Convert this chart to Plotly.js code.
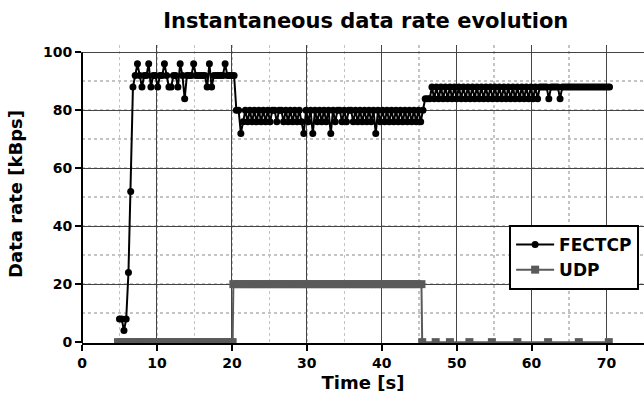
<!DOCTYPE html>
<html>
<head>
<meta charset="utf-8">
<script src="https://cdn.plot.ly/plotly-3.0.1.min.js"></script>
<style>html,body{margin:0;padding:0;background:#fff;}#chart{width:644px;height:399px;}</style>
</head>
<body>
<div id="chart"></div>
<script>
// FECTCP samples (time [s], data rate [kBps])
const fectcpTime = [
  5.0,5.3,5.6,5.9,6.2,6.5,6.8,7.1,7.4,7.7,
  8.0,8.3,8.6,8.9,9.2,9.5,9.8,10.1,10.4,10.7,
  11.0,11.3,11.6,11.9,12.2,12.5,12.8,13.1,13.4,13.7,
  14.0,14.3,14.6,14.9,15.2,15.5,15.8,16.1,16.4,16.7,
  17.0,17.3,17.6,17.9,18.2,18.5,18.8,19.1,19.4,19.7,
  20.0,20.3,20.6,20.9,21.2,21.5,21.8,22.1,22.4,22.7,
  23.0,23.3,23.6,23.9,24.2,24.5,24.8,25.1,25.4,25.7,
  26.0,26.3,26.6,26.9,27.2,27.5,27.8,28.1,28.4,28.7,
  29.0,29.3,29.6,29.9,30.2,30.5,30.8,31.1,31.4,31.7,
  32.0,32.3,32.6,32.9,33.2,33.5,33.8,34.1,34.4,34.7,
  35.0,35.3,35.6,35.9,36.2,36.5,36.8,37.1,37.4,37.7,
  38.0,38.3,38.6,38.9,39.2,39.5,39.8,40.1,40.4,40.7,
  41.0,41.3,41.6,41.9,42.2,42.5,42.8,43.1,43.4,43.7,
  44.0,44.3,44.6,44.9,45.2,45.5,45.8,46.1,46.4,46.7,
  47.0,47.3,47.6,47.9,48.2,48.5,48.8,49.1,49.4,49.7,
  50.0,50.3,50.6,50.9,51.2,51.5,51.8,52.1,52.4,52.7,
  53.0,53.3,53.6,53.9,54.2,54.5,54.8,55.1,55.4,55.7,
  56.0,56.3,56.6,56.9,57.2,57.5,57.8,58.1,58.4,58.7,
  59.0,59.3,59.6,59.9,60.2,60.5,60.8,61.1,61.4,61.7,
  62.0,62.3,62.6,62.9,63.2,63.5,63.8,64.1,64.4,64.7,
  65.0,65.3,65.6,65.9,66.2,66.5,66.8,67.1,67.4,67.7,
  68.0,68.3,68.6,68.9,69.2,69.5,69.8,70.1,70.4
];
const fectcpRate = [
  8,8,4,8,24,52,88,92,96,92,
  88,92,92,96,88,92,92,88,92,92,
  96,92,88,88,92,92,88,96,92,84,
  92,92,92,96,92,92,92,92,92,88,
  96,88,92,92,92,92,92,96,92,92,
  92,92,80,80,72,76,80,76,80,76,
  80,76,80,76,80,76,80,76,80,80,
  76,80,80,76,80,76,80,76,80,76,
  80,76,72,80,76,80,72,80,76,80,
  76,80,76,80,72,80,76,80,80,76,
  80,76,80,80,76,80,76,80,76,80,
  76,80,76,80,72,80,76,80,76,80,
  76,80,76,80,76,80,76,80,76,80,
  76,80,76,80,76,80,84,84,84,88,
  84,88,84,88,84,88,84,88,84,88,
  84,88,84,88,84,88,84,88,84,88,
  84,88,84,88,84,88,84,88,84,88,
  84,88,84,88,84,88,84,88,84,88,
  84,88,84,88,84,88,84,88,88,88,
  88,84,88,88,88,88,84,88,88,88,
  88,88,88,88,88,88,88,88,88,88,
  88,88,88,88,88,88,88,88,88
];
// UDP samples
const udpTime = [
  4.8,5.3,5.8,6.3,6.8,7.3,7.8,8.3,8.8,9.3,9.8,10.3,10.8,11.3,11.8,12.3,12.8,13.3,13.8,14.3,
  14.8,15.3,15.8,16.3,16.8,17.3,17.8,18.3,18.8,19.3,19.8,20.1,
  20.2,20.7,21.2,21.7,22.2,22.7,23.2,23.7,24.2,24.7,25.2,25.7,26.2,26.7,27.2,27.7,28.2,28.7,
  29.2,29.7,30.2,30.7,31.2,31.7,32.2,32.7,33.2,33.7,34.2,34.7,35.2,35.7,36.2,36.7,37.2,37.7,
  38.2,38.7,39.2,39.7,40.2,40.7,41.2,41.7,42.2,42.7,43.2,43.7,44.2,44.7,45.3,
  45.4,47.2,49.1,51.7,54.7,58.1,62.2,66.3,70.3
];
const udpRate = [
  0,0,0,0,0,0,0,0,0,0,0,0,0,0,0,0,0,0,0,0,
  0,0,0,0,0,0,0,0,0,0,0,0,
  20,20,20,20,20,20,20,20,20,20,20,20,20,20,20,20,20,20,
  20,20,20,20,20,20,20,20,20,20,20,20,20,20,20,20,20,20,
  20,20,20,20,20,20,20,20,20,20,20,20,20,20,20,
  0,0,0,0,0,0,0,0,0
];
const seriesNames = ['FECTCP', 'UDP'];
const xTicks = [0,10,20,30,40,50,60,70];
const yTicks = [0,20,40,60,80,100];

const boldFont = {family: 'DejaVu Sans', weight: 'bold', color: '#000'};

const traces = [
  {x: fectcpTime, y: fectcpRate, name: seriesNames[0], type: 'scatter', mode: 'lines+markers',
   line: {color: '#000', width: 2}, marker: {symbol: 'circle', size: 7, color: '#000'}},
  {x: udpTime, y: udpRate, name: seriesNames[1], type: 'scatter', mode: 'lines+markers',
   line: {color: '#5a5a5a', width: 2}, marker: {symbol: 'square', size: 8, color: '#5a5a5a'}}
];

const layout = {
  width: 644, height: 399,
  margin: {l: 82, r: 0, t: 45, b: 56},
  paper_bgcolor: '#fff', plot_bgcolor: '#fff',
  showlegend: true,
  title: {text: 'Instantaneous data rate evolution', font: Object.assign({size: 21}, boldFont),
          x: 0.568, xanchor: 'center', y: 0.948, yanchor: 'middle'},
  xaxis: {
    range: [0, 75], tickvals: xTicks, ticktext: xTicks.map(String),
    showline: true, linecolor: '#000', linewidth: 2, mirror: false,
    ticks: 'outside', ticklen: 6, tickwidth: 2, tickcolor: '#000',
    tickfont: Object.assign({size: 14}, boldFont),
    showgrid: true, gridcolor: '#444', gridwidth: 1, zeroline: false,
    minor: {dtick: 5, tick0: 0, showgrid: true, gridcolor: '#c4c4c4', griddash: 'dot', gridwidth: 1.5, ticks: ''},
    title: {text: 'Time [s]', font: Object.assign({size: 18}, boldFont), standoff: 7}
  },
  yaxis: {
    range: [-0.3, 102.5], tickvals: yTicks, ticktext: yTicks.map(String),
    showline: false,
    ticks: 'outside', ticklen: 6, tickwidth: 2, tickcolor: '#000',
    tickfont: Object.assign({size: 14}, boldFont),
    showgrid: true, gridcolor: '#444', gridwidth: 1, zeroline: false,
    minor: {dtick: 10, tick0: 0, showgrid: true, gridcolor: '#c4c4c4', griddash: 'dot', gridwidth: 1.5, ticks: ''},
    title: {text: 'Data rate [kBps]', font: Object.assign({size: 18}, boldFont), standoff: 15}
  },
  shapes: [
    {type: 'line', xref: 'paper', yref: 'y', x0: 0, x1: 0, y0: -0.3, y1: 100,
     line: {color: '#000', width: 2}, layer: 'above'}
  ],
  legend: {
    x: 0.76, y: 0.396, xanchor: 'left', yanchor: 'top',
    bgcolor: '#fff', bordercolor: '#000', borderwidth: 2,
    itemwidth: 38,
    font: Object.assign({size: 17}, boldFont), tracegroupgap: 0
  }
};

Plotly.newPlot('chart', traces, layout, {displayModeBar: false, staticPlot: true});
</script>
</body>
</html>
